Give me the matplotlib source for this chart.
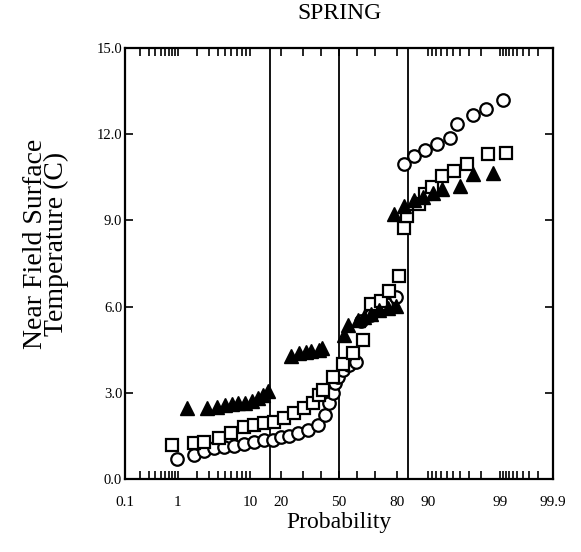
import numpy as np
import matplotlib
matplotlib.use('Agg')
import matplotlib.pyplot as plt
from statistics import NormalDist

plt.rcParams['font.family'] = ['Liberation Serif', 'DejaVu Serif']

# cumulative probability (%) and near field surface temperature (C)
circle_prob = [0.96, 1.8, 2.6, 3.6, 4.8, 6.4, 8.6, 11.1, 14.1, 17.2, 20.2, 23.6,
               27.8, 32.8, 38.1, 42.0, 44.3, 46.6, 47.5, 49.4, 52.3, 55.7, 59.6,
               62.4, 67.7, 71.7, 75.0, 79.4, 82.5, 85.9, 89.4, 92.2, 94.6, 95.6,
               97.3, 98.3, 99.1]
circle_temp = [0.69, 0.83, 0.97, 1.08, 1.11, 1.15, 1.22, 1.28, 1.35, 1.35, 1.46, 1.49,
               1.6, 1.7, 1.88, 2.22, 2.64, 3.0, 3.33, 3.54, 3.78, 3.96, 4.06,
               5.5, 5.7, 5.94, 6.1, 6.33, 10.97, 11.25, 11.46, 11.67, 11.88, 12.36,
               12.67, 12.88, 13.2]

square_prob = [0.79, 1.8, 2.6, 4.2, 6.0, 8.6, 11.1, 14.1, 17.5, 21.5, 25.9, 30.7,
               35.4, 38.7, 40.9, 46.6, 52.3, 58.0, 63.5, 67.7, 72.7, 76.4, 80.6,
               82.5, 83.6, 87.5, 89.4, 91.0, 93.2, 95.1, 96.8, 98.4, 99.2]
square_temp = [1.18, 1.25, 1.28, 1.42, 1.6, 1.8, 1.88, 1.94, 1.98, 2.12, 2.29, 2.46,
               2.64, 2.92, 3.1, 3.54, 4.0, 4.38, 4.83, 6.1, 6.2, 6.56, 7.08,
               8.75, 9.17, 9.58, 9.93, 10.15, 10.56, 10.73, 10.97, 11.32, 11.35]

triangle_prob = [1.4, 2.8, 3.9, 5.0, 6.2, 7.3, 8.8, 10.4, 12.0, 13.6, 15.2,
                 24.5, 28.0, 31.5, 34.5, 38.5, 40.5, 52.9, 55.1, 60.8, 64.0,
                 67.7, 71.7, 75.9, 79.4, 78.5, 82.5, 85.9, 88.6, 91.2, 93.2,
                 96.0, 97.3, 98.7]
triangle_temp = [2.47, 2.47, 2.5, 2.57, 2.6, 2.64, 2.64, 2.71, 2.81, 2.92, 3.06,
                 4.28, 4.38, 4.42, 4.46, 4.5, 4.55, 5.0, 5.35, 5.52, 5.63,
                 5.76, 5.87, 5.97, 6.04, 9.24, 9.5, 9.7, 9.8, 9.97, 10.1,
                 10.2, 10.6, 10.66]

# mean - sd, mean, mean + sd
ref_lines = [15.87, 50.0, 84.13]

label_ticks = [0.1, 1, 10, 20, 50, 80, 90, 99, 99.9]
minor_ticks = ([0.2, 0.3, 0.4, 0.5, 0.6, 0.7, 0.8, 0.9] + list(range(2, 10)) +
               [30, 40, 60, 70] + list(range(91, 99)) +
               [99.1, 99.2, 99.3, 99.4, 99.5, 99.6, 99.7, 99.8])

nd = NormalDist()


def prob_to_z(p):
    p = np.clip(np.asarray(p, dtype=float), 1e-4, 100 - 1e-4)
    return np.vectorize(lambda v: nd.inv_cdf(v / 100.0) if np.isfinite(v) else np.nan,
                        otypes=[float])(p)


def z_to_prob(z):
    z = np.asarray(z, dtype=float)
    return np.vectorize(lambda v: nd.cdf(v) * 100.0 if np.isfinite(v) else np.nan,
                        otypes=[float])(z)


fig = plt.figure(figsize=(5.81, 5.52), dpi=100)
ax = fig.add_axes([0.215, 0.132, 0.737, 0.781])
ax.set_xscale('function', functions=(prob_to_z, z_to_prob))

for x in ref_lines:
    ax.axvline(x, color='black', lw=1.3, zorder=1)

ax.plot(circle_prob, circle_temp, 'o', ms=9, mfc='white', mec='black', mew=1.6,
        ls='none', zorder=3)
ax.plot(square_prob, square_temp, 's', ms=9, mfc='white', mec='black', mew=1.6,
        ls='none', zorder=3)
ax.plot(triangle_prob, triangle_temp, '^', ms=9.5, mfc='black', mec='black',
        ls='none', zorder=4)

ax.set_xlim(0.1, 99.9)
ax.set_ylim(0, 15)
ax.set_xticks(label_ticks)
ax.set_xticklabels(['0.1', '1', '10', '20', '50', '80', '90', '99', '99.9'])
ax.set_xticks(minor_ticks, minor=True)
ax.set_yticks(np.arange(0, 15.1, 3))
ax.set_yticklabels([f'{v:.1f}' for v in np.arange(0, 15.1, 3)])

ax.tick_params(axis='x', which='both', direction='in', top=True, bottom=True,
               length=6, width=1.2, labelsize=11, pad=12)
ax.tick_params(axis='y', which='both', direction='in', left=True, right=True,
               length=6, width=1.2, labelsize=10.5, pad=2)
for s in ax.spines.values():
    s.set_linewidth(1.6)

ax.set_title('SPRING', fontsize=17, pad=21)
ax.set_xlabel('Probability', fontsize=17, labelpad=2)
ax.set_ylabel('Near Field Surface\nTemperature (C)', fontsize=20, linespacing=0.8)
ax.yaxis.set_label_coords(-0.13, 0.545)

fig.savefig('out.png', dpi=100)
